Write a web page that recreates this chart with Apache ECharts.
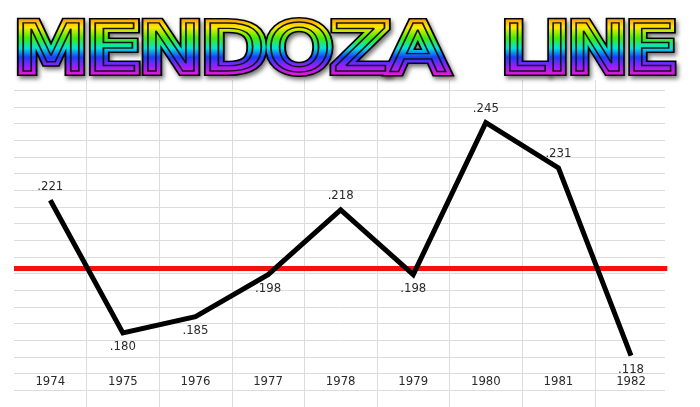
<!DOCTYPE html>
<html>
<head>
<meta charset="utf-8">
<script src="https://cdn.jsdelivr.net/npm/echarts@6/dist/echarts.min.js"></script>
<style>
  html, body { margin: 0; padding: 0; background: #ffffff; }
  #chart { width: 700px; height: 407px; }
</style>
</head>
<body>
<div id="chart"></div>
<script>
// ---- data ----
const years = ['1974', '1975', '1976', '1977', '1978', '1979', '1980', '1981', '1982'];
const battingAverages = [0.221, 0.180, 0.185, 0.198, 0.218, 0.198, 0.245, 0.231, 0.118];
const mendozaLine = 0.200;
const titleWords = ['MENDOZA', 'LINE'];
const sheetRows = 19;      // spreadsheet rows visible below the title
const sheetCols = 9;       // spreadsheet columns

// ---- helpers ----
function fmtAvg(v) { return v.toFixed(3).replace(/^0/, ''); }

const TITLE_FONT = '66px "DejaVu Sans"';
const TITLE_Y = 53.5;

function wordLayers(text, x, scaleX) {
  const base = { type: 'text', x: x, y: TITLE_Y, scaleX: scaleX, silent: true };
  const common = { text: text, x: 0, y: 0, font: TITLE_FONT, align: 'left', verticalAlign: 'middle' };
  return [
    // black outer ring with drop shadow (base layer)
    Object.assign({}, base, { zlevel: 0, z: 100, style: Object.assign({}, common, {
      fill: '#000', stroke: '#000', lineWidth: 10, lineJoin: 'round',
      textShadowColor: 'rgba(0,0,0,0.5)', textShadowBlur: 4,
      textShadowOffsetX: 2, textShadowOffsetY: 3
    })}),
    // mask for rainbow fill (own layer)
    Object.assign({}, base, { zlevel: 1, z: 1, style: Object.assign({}, common, {
      fill: '#fff', stroke: '#fff', lineWidth: 7, lineJoin: 'round'
    })}),
    // inner contour
    Object.assign({}, base, { zlevel: 1, z: 3, style: Object.assign({}, common, {
      fill: 'none', stroke: '#141414', lineWidth: 1.4, lineJoin: 'miter'
    })})
  ];
}

const rainbowRect = {
  type: 'rect', zlevel: 1, z: 2, silent: true,
  shape: { x: 0, y: 17, width: 700, height: 60 },
  style: {
    blend: 'source-atop',
    fill: new echarts.graphic.LinearGradient(0, 0, 0, 1, [
      { offset: 0.00, color: '#ff8a00' },
      { offset: 0.17, color: '#ffea00' },
      { offset: 0.35, color: '#40ee00' },
      { offset: 0.52, color: '#00e4dc' },
      { offset: 0.67, color: '#1a3cff' },
      { offset: 0.82, color: '#9420ff' },
      { offset: 1.00, color: '#ff14d0' }
    ])
  }
};

const chart = echarts.init(document.getElementById('chart'), null, { renderer: 'canvas' });

const lineData = battingAverages.map(v => ({
  value: v,
  label: { position: v > mendozaLine ? 'top' : 'bottom' }
}));

const labelFont = '"DejaVu Sans Condensed", "DejaVu Sans", sans-serif';

const option = {
  backgroundColor: '#ffffff',
  animation: false,
  textStyle: { fontFamily: labelFont },
  graphic: [].concat(
    wordLayers(titleWords[0], 15, 1.264),
    wordLayers(titleWords[1], 502.2, 1.177),
    [rainbowRect]
  ),
  grid: [
    // data grid
    { left: 14, right: 32.7, top: 74, bottom: 41.7, outerBoundsMode: 'none', containLabel: false },
    // spreadsheet rows
    { left: 14, right: 35, top: 90.3, bottom: 0, outerBoundsMode: 'none', containLabel: false },
    // spreadsheet inner column borders
    { left: 86.6, right: 105.2, top: 80, bottom: 0, outerBoundsMode: 'none', containLabel: false }
  ],
  xAxis: [
    {
      gridIndex: 0, type: 'category', data: years, boundaryGap: true,
      axisLine: { show: false }, axisTick: { show: false }, splitLine: { show: false },
      axisLabel: { color: '#2a2a2a', fontSize: 13, margin: 10, fontFamily: labelFont }
    },
    {
      gridIndex: 1, type: 'value', min: 0, max: 1,
      axisLine: { show: false }, axisTick: { show: false }, axisLabel: { show: false },
      splitLine: { show: false }
    },
    {
      gridIndex: 2, type: 'value', min: 1, max: sheetCols - 1, interval: 1,
      axisLine: { show: false }, axisTick: { show: false }, axisLabel: { show: false },
      splitLine: { show: true, lineStyle: { color: '#dcdcdc', width: 1 } }
    }
  ],
  yAxis: [
    {
      gridIndex: 0, type: 'value', min: 0.115, max: 0.26,
      breaks: [{ start: 0.12, end: 0.175, gap: 0 }],
      breakArea: { show: false },
      axisLine: { show: false }, axisTick: { show: false }, axisLabel: { show: false },
      splitLine: { show: false }
    },
    {
      gridIndex: 1, type: 'value', min: 0, max: sheetRows, interval: 1,
      axisLine: { show: false }, axisTick: { show: false }, axisLabel: { show: false },
      splitLine: { show: true, lineStyle: { color: '#dcdcdc', width: 1 } }
    },
    {
      gridIndex: 2, type: 'value', min: 0, max: 1,
      axisLine: { show: false }, axisTick: { show: false }, axisLabel: { show: false },
      splitLine: { show: false }
    }
  ],
  series: [
    {
      type: 'line', xAxisIndex: 0, yAxisIndex: 0, data: lineData, z: 5,
      symbol: 'circle', symbolSize: 1, itemStyle: { color: '#000' },
      lineStyle: { color: '#000', width: 5, join: 'miter', cap: 'butt' },
      label: {
        show: true, distance: 7, color: '#2a2a2a', fontSize: 13, fontFamily: labelFont,
        formatter: p => fmtAvg(p.value)
      },
      markLine: {
        silent: true, symbol: 'none', z: 3,
        label: { show: false },
        lineStyle: { color: '#f21010', width: 5, type: 'solid' },
        data: [{ yAxis: mendozaLine }]
      }
    }
  ]
};

chart.setOption(option);
</script>
</body>
</html>
